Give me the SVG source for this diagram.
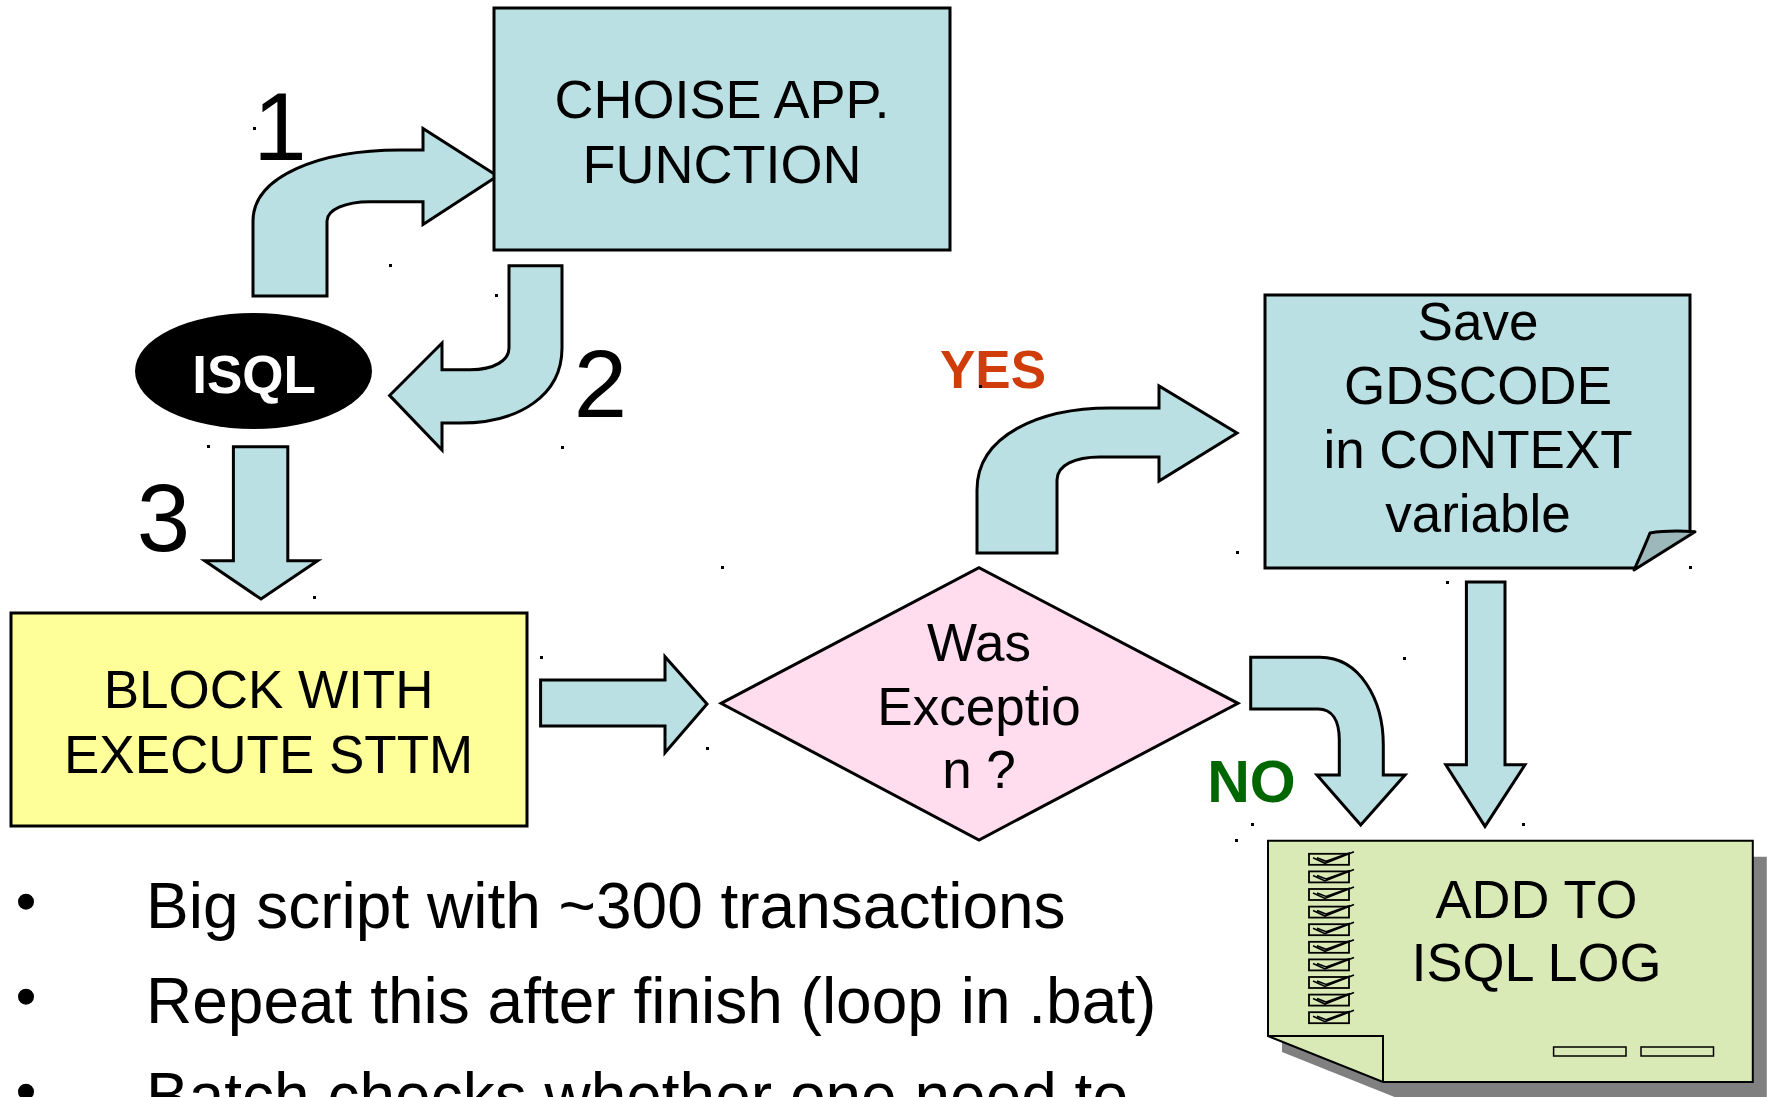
<svg xmlns="http://www.w3.org/2000/svg" width="1767" height="1097" viewBox="0 0 1767 1097">
<style>
text{font-family:"Liberation Sans",Arial,sans-serif;fill:#000}
.box{fill:#BAE0E3;stroke:#000;stroke-width:3}
.arrow{fill:#BAE0E3;stroke:#000;stroke-width:3;stroke-linejoin:miter}
.lbl{font-size:53px;text-anchor:middle}
.num{font-size:96px;text-anchor:middle}
.bul{font-size:64px}
.dot{fill:#000}
.chk{fill:none;stroke:#000;stroke-width:1.6}
</style>
<rect width="1767" height="1097" fill="#fff"/>

<g id="connectors">
<path class="arrow" d="M253,296 L253,221 C253,176 320,150 400,150 L423,150 L423,128.5 L497.5,176 L423,224.5 L423,201.7 L370,201.7 C345,201.7 327,210 327,221 L327,296 Z"/>
<path class="arrow" d="M509,265.7 L562,265.7 L562,348 C562,395 520,423 460,423 L442,423 L442,450 L389.6,395.4 L442,343 L442,369.7 L470,369.7 C495,369.7 509,360 509,348 Z"/>
<path class="arrow" d="M233.4,446.8 L287.8,446.8 L287.8,560.7 L317.6,560.7 L261,599 L204.7,560.7 L233.4,560.7 Z"/>
<path class="arrow" d="M540.6,680 L665,680 L665,656.7 L707,704 L665,752.7 L665,726 L540.6,726 Z"/>
<path class="arrow" d="M977,553 L977,490 C977,435 1040,408 1110,408 L1159,408 L1159,386 L1237,433 L1159,481 L1159,457 L1100,457 C1075,457 1057,465 1057,480 L1057,553 Z"/>
<path class="arrow" d="M1250.7,657.3 L1320,657.3 C1360,657.3 1383.3,700 1383.3,745 L1383.3,775 L1405,775 L1360.7,825 L1317,775 L1339.3,775 L1339.3,740 C1339.3,720 1332,709 1318,709 L1250.7,709 Z"/>
<path class="arrow" d="M1466.4,582 L1505,582 L1505,764.8 L1525,764.8 L1485,826.4 L1445.8,764.8 L1466.4,764.8 Z"/>
<text class="num" x="280" y="160">1</text>
<text class="num" x="600.5" y="416.7">2</text>
<text class="num" x="163.5" y="551">3</text>
<text x="993" y="388" style="font-size:53px;font-weight:bold;fill:#D03C0A;text-anchor:middle">YES</text>
<text x="1251.5" y="802" style="font-size:59px;font-weight:bold;fill:#006600;text-anchor:middle">NO</text>
</g>

<g id="isql">
<ellipse cx="253.5" cy="371" rx="118.5" ry="58" fill="#000"/>
<text x="254" y="392.5" style="font-size:53px;font-weight:bold;fill:#fff;text-anchor:middle">ISQL</text>
</g>

<g id="choise">
<rect class="box" x="494" y="8" width="456" height="242"/>
<text class="lbl" x="722" y="118" style="font-size:54px">CHOISE APP.</text>
<text class="lbl" x="722" y="183" style="font-size:54px">FUNCTION</text>
</g>

<g id="block">
<rect x="11" y="613" width="516" height="213" fill="#FFFF99" stroke="#000" stroke-width="3"/>
<text class="lbl" x="268.6" y="708.3">BLOCK WITH</text>
<text class="lbl" x="268.6" y="772.7">EXECUTE STTM</text>
</g>

<g id="decision">
<path d="M721,703.3 L979,567.7 L1238,703.3 L979,840 Z" fill="#FFDDEE" stroke="#000" stroke-width="3"/>
<text class="lbl" x="979" y="660.7">Was</text>
<text class="lbl" x="979" y="725">Exceptio</text>
<text class="lbl" x="979" y="788">n ?</text>
</g>

<g id="save">
<path class="box" d="M1265,295 L1690,295 L1690,532 L1635,568 L1265,568 Z"/>
<path d="M1650,533 Q1668,530 1695,531.7 L1634,570 Q1644,548 1650,533 Z" fill="#9DB8BA" stroke="#000" stroke-width="3" stroke-linejoin="round"/>
<text class="lbl" x="1478" y="340">Save</text>
<text class="lbl" x="1478" y="404">GDSCODE</text>
<text class="lbl" x="1478" y="468.3">in CONTEXT</text>
<text class="lbl" x="1478" y="531.7">variable</text>
</g>

<g id="log">
<path d="M1282,856.8 L1766.8,856.8 L1766.8,1098 L1397,1098 L1282,1052 Z" fill="#808080"/>
<path d="M1268,840.8 L1752.8,840.8 L1752.8,1082 L1383,1082 L1268,1036 Z" fill="#DAEAB6" stroke="#000" stroke-width="2"/>
<path d="M1268,1036 L1383,1036 L1383,1082" fill="none" stroke="#000" stroke-width="2"/>
<g id="checks" fill="none" stroke="#000">
<rect x="1309" y="853.8" width="40" height="11" stroke-width="1.8"/><path class="chk" d="M1313,857.8 L1325,863.3 L1354,851.8 M1317,857.8 L1326,861.3 L1350,852.8"/>
<rect x="1309" y="871.4" width="40" height="11" stroke-width="1.8"/><path class="chk" d="M1313,875.4 L1325,880.9 L1354,869.4 M1317,875.4 L1326,878.9 L1350,870.4"/>
<rect x="1309" y="889" width="40" height="11" stroke-width="1.8"/><path class="chk" d="M1313,893 L1325,898.5 L1354,887 M1317,893 L1326,896.5 L1350,888"/>
<rect x="1309" y="906.6" width="40" height="11" stroke-width="1.8"/><path class="chk" d="M1313,910.6 L1325,916.1 L1354,904.6 M1317,910.6 L1326,914.1 L1350,905.6"/>
<rect x="1309" y="924.2" width="40" height="11" stroke-width="1.8"/><path class="chk" d="M1313,928.2 L1325,933.7 L1354,922.2 M1317,928.2 L1326,931.7 L1350,923.2"/>
<rect x="1309" y="941.8" width="40" height="11" stroke-width="1.8"/><path class="chk" d="M1313,945.8 L1325,951.3 L1354,939.8 M1317,945.8 L1326,949.3 L1350,940.8"/>
<rect x="1309" y="959.4" width="40" height="11" stroke-width="1.8"/><path class="chk" d="M1313,963.4 L1325,968.9 L1354,957.4 M1317,963.4 L1326,966.9 L1350,958.4"/>
<rect x="1309" y="977" width="40" height="11" stroke-width="1.8"/><path class="chk" d="M1313,981 L1325,986.5 L1354,975 M1317,981 L1326,984.5 L1350,976"/>
<rect x="1309" y="994.6" width="40" height="11" stroke-width="1.8"/><path class="chk" d="M1313,998.6 L1325,1004.1 L1354,992.6 M1317,998.6 L1326,1002.1 L1350,993.6"/>
<rect x="1309" y="1012.2" width="40" height="11" stroke-width="1.8"/><path class="chk" d="M1313,1016.2 L1325,1021.7 L1354,1010.2 M1317,1016.2 L1326,1019.7 L1350,1011.2"/>
</g>
<rect x="1553.6" y="1047" width="72.4" height="9" fill="none" stroke="#000" stroke-width="1.5"/>
<rect x="1641" y="1047" width="72.5" height="9" fill="none" stroke="#000" stroke-width="1.5"/>
<text class="lbl" x="1536.5" y="918" style="font-size:54px">ADD TO</text>
<text class="lbl" x="1536.5" y="981.2" style="font-size:54px">ISQL LOG</text>
</g>

<g id="bullets">
<circle cx="26" cy="901.7" r="8"/>
<circle cx="26" cy="996.7" r="8"/>
<circle cx="26" cy="1091.7" r="8"/>
<text class="bul" x="146" y="928.3">Big script with ~300 transactions</text>
<text class="bul" x="146" y="1023.3">Repeat this after finish (loop in .bat)</text>
<text class="bul" x="146" y="1118.3">Batch checks whether one need to</text>
</g>

<g id="marks">
<rect class="dot" x="253" y="127" width="3" height="3"/>
<rect class="dot" x="389" y="264" width="3" height="3"/>
<rect class="dot" x="495" y="294" width="3" height="3"/>
<rect class="dot" x="207" y="445" width="3" height="3"/>
<rect class="dot" x="561" y="446" width="3" height="3"/>
<rect class="dot" x="313" y="596" width="3" height="3"/>
<rect class="dot" x="540" y="656" width="3" height="3"/>
<rect class="dot" x="706" y="747" width="3" height="3"/>
<rect class="dot" x="721" y="566" width="3" height="3"/>
<rect class="dot" x="979" y="385" width="3" height="3"/>
<rect class="dot" x="1236" y="551" width="3" height="3"/>
<rect class="dot" x="1446" y="581" width="3" height="3"/>
<rect class="dot" x="1689" y="566" width="3" height="3"/>
<rect class="dot" x="1403" y="657" width="3" height="3"/>
<rect class="dot" x="1251" y="823" width="3" height="3"/>
<rect class="dot" x="1522" y="823" width="3" height="3"/>
<rect class="dot" x="1235" y="839" width="3" height="3"/>
</g>
</svg>
